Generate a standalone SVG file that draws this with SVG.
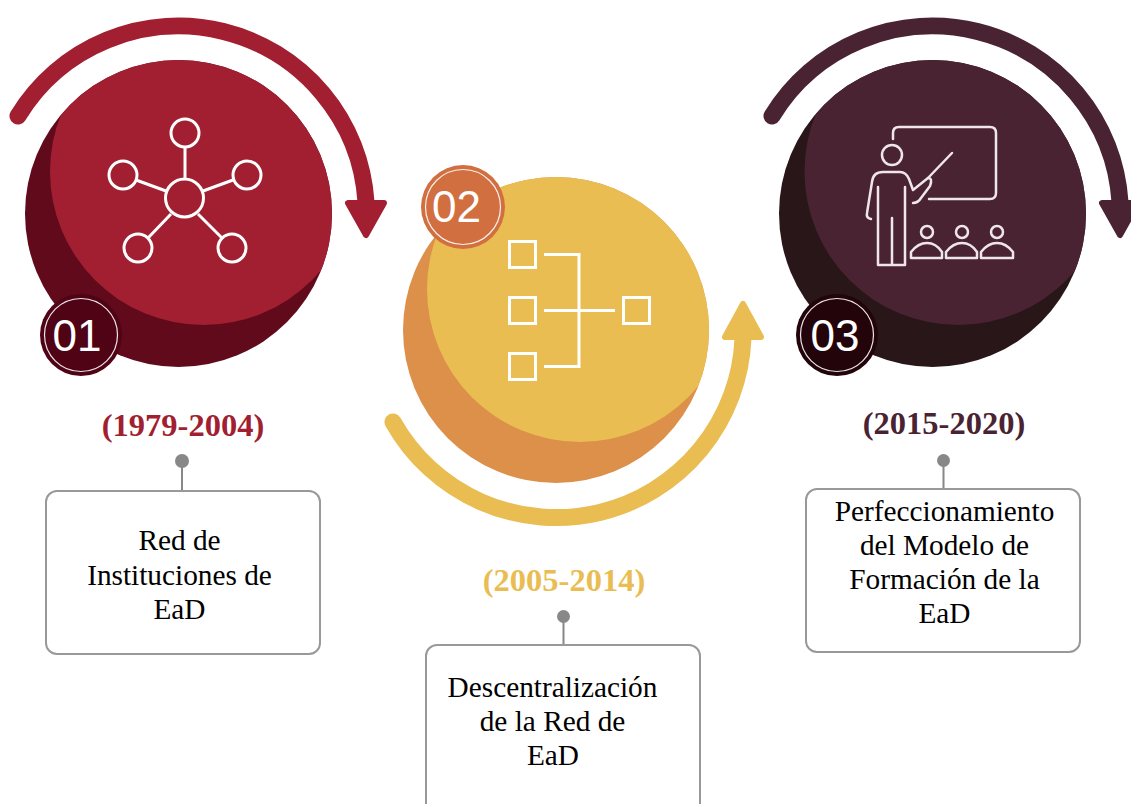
<svg xmlns="http://www.w3.org/2000/svg" width="1131" height="804" viewBox="0 0 1131 804">
<style>
.ic{fill:none;stroke:#fff;stroke-width:3;stroke-linecap:butt;stroke-linejoin:miter}
.ict{fill:none;stroke:#efe6e8;stroke-width:2.5;stroke-linecap:round;stroke-linejoin:round}
.arc{fill:none;stroke-width:17;stroke-linecap:round}
.head{stroke-width:6;stroke-linejoin:round}
.box{fill:#fff;stroke:#999;stroke-width:2}
.lead{stroke:#888;stroke-width:2;fill:none}
.dot{fill:#888}
.ring{fill:none;stroke:#fff;stroke-width:1.2;stroke-opacity:.9}
.num{font-family:"Liberation Sans",Arial,sans-serif;font-size:44px;fill:#fff;text-anchor:middle}
.yr{font-family:"Liberation Serif","Times New Roman",serif;font-size:32.5px;font-weight:bold;text-anchor:middle}
.tx{font-family:"Liberation Serif","Times New Roman",serif;font-size:29.3px;fill:#000;text-anchor:middle}
</style>
<defs>
<clipPath id="c1"><circle cx="178.5" cy="213.5" r="153.5"/></clipPath>
<clipPath id="c2"><circle cx="556" cy="330" r="153"/></clipPath>
<clipPath id="c3"><circle cx="932.5" cy="213.5" r="153.5"/></clipPath>
</defs>
<rect width="1131" height="804" fill="#fff"/>

<g id="connectors">
<path class="arc" stroke="#a11f31" d="M18 116A188 188 0 0 1 366 202"/>
<polygon class="head" fill="#a11f31" stroke="#a11f31" points="348,203 384,203 366,235"/>
<path class="arc" stroke="#e9bd52" d="M393 422A187 187 0 0 0 743 338"/>
<polygon class="head" fill="#e9bd52" stroke="#e9bd52" points="725,337 761,337 743,304"/>
<path class="arc" stroke="#4a2333" d="M772 116A188 188 0 0 1 1120 202"/>
<polygon class="head" fill="#4a2333" stroke="#4a2333" points="1102,203 1138,203 1120,235"/>
<path class="lead" d="M182 461V491M563.5 616V645M943.5 460V489"/>
<circle class="dot" cx="182" cy="461" r="7"/>
<circle class="dot" cx="563.5" cy="616.5" r="6.5"/>
<circle class="dot" cx="943.5" cy="460.5" r="6.5"/>
</g>

<g id="node-01">
<circle cx="178.5" cy="213.5" r="153.5" fill="#600a1b"/>
<circle cx="203.5" cy="171.5" r="153.5" fill="#a11f31" clip-path="url(#c1)"/>
<g class="ic">
<circle cx="184.5" cy="198" r="19"/>
<circle cx="185" cy="133" r="14"/><circle cx="123" cy="175" r="14"/><circle cx="247" cy="175" r="14"/><circle cx="138" cy="248" r="14"/><circle cx="232" cy="248" r="14"/>
<path d="M185 147V179M136 180L166 191M233 180L203 191M148 238L171 214M222 238L198 214"/>
</g>
<circle cx="81" cy="335" r="41" fill="#4f0315"/>
<circle class="ring" cx="81" cy="335" r="36.5"/>
<text class="num" x="77" y="351">01</text>
<text class="yr" x="183" y="436" fill="#a11f31">(1979-2004)</text>
<rect class="box" x="46" y="491" width="274" height="163" rx="11"/>
<text class="tx" x="179.5" y="550">Red de</text>
<text class="tx" x="179.5" y="584.5">Instituciones de</text>
<text class="tx" x="179.5" y="619">EaD</text>
</g>

<g id="node-02">
<circle cx="556" cy="330" r="153" fill="#dc9049"/>
<circle cx="580" cy="289" r="153" fill="#e9bd52" clip-path="url(#c2)"/>
<g class="ic">
<rect x="509.5" y="241.5" width="26" height="26"/><rect x="509.5" y="297.5" width="26" height="26"/><rect x="509.5" y="353.5" width="26" height="26"/><rect x="623.5" y="297.5" width="26" height="26"/>
<path d="M544 254.500H579V366.500H544M544 310.500H615"/>
</g>
<circle cx="463" cy="207" r="42" fill="#d26f40"/>
<circle class="ring" cx="463" cy="207" r="37.500"/>
<text class="num" x="456.500" y="222">02</text>
<text class="yr" x="564" y="591" fill="#e9bd52">(2005-2014)</text>
<rect class="box" x="426" y="645" width="274" height="170" rx="11"/>
<text class="tx" x="552.500" y="697">Descentralización</text>
<text class="tx" x="552.500" y="731">de la Red de</text>
<text class="tx" x="553" y="765">EaD</text>
</g>

<g id="node-03">
<circle cx="932.500" cy="213.500" r="153.500" fill="#291619"/>
<circle cx="958" cy="171.500" r="153.500" fill="#4a2333" clip-path="url(#c3)"/>
<g class="ict">
<path d="M893 139V133Q893 127 899 127H990Q996 127 996 133V193Q996 199 990 199H929"/>
<circle cx="892" cy="155" r="10"/>
<path d="M871 219Q866 218 867 213L872 182Q873 172 883 172H900Q906 172 909 179L913 190L928 178Q933 178 930 186L921 198Q918 203 913 203"/>
<path d="M928 178L952 153"/>
<path d="M878 187V265H905V187M892 218V265"/>
<circle cx="927" cy="232" r="6"/><circle cx="962" cy="232" r="6"/><circle cx="997" cy="232" r="6"/>
<path d="M911 258V252Q918 243 927 243Q936 243 942 252V258Z"/>
<path d="M946 258V252Q953 243 962 243Q971 243 977 252V258Z"/>
<path d="M981 258V252Q988 243 997 243Q1006 243 1013 252V258Z"/>
</g>
<circle cx="837" cy="335" r="41" fill="#23040a"/>
<circle class="ring" cx="837" cy="335" r="36.500"/>
<text class="num" x="835" y="351">03</text>
<text class="yr" x="944" y="434" fill="#4a2333">(2015-2020)</text>
<rect class="box" x="806" y="489" width="274" height="163" rx="11"/>
<text class="tx" x="944.500" y="521">Perfeccionamiento</text>
<text class="tx" x="944.500" y="555">del Modelo de</text>
<text class="tx" x="944.500" y="589">Formación de la</text>
<text class="tx" x="944.500" y="623">EaD</text>
</g>
</svg>
